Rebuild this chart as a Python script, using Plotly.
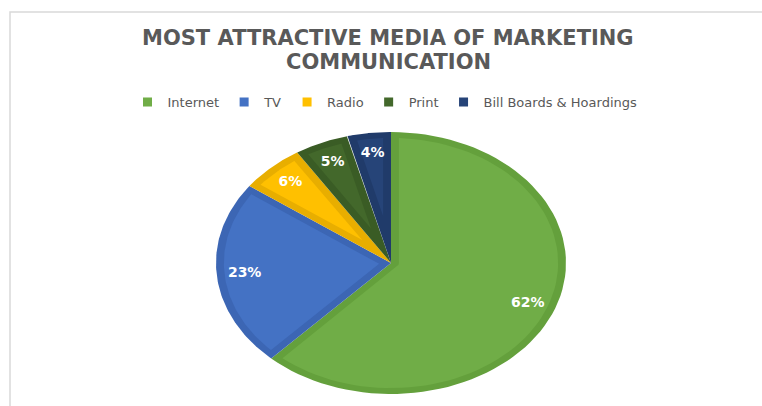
import numpy as np
import plotly.graph_objects as go

# Share of respondents by preferred marketing medium (percent)
media = ["Internet", "TV", "Radio", "Print", "Bill Boards & Hoardings"]
shares = [62, 23, 6, 5, 4]
title_lines = ["MOST ATTRACTIVE MEDIA OF MARKETING", "COMMUNICATION"]

fill_colors = ["#70AD47", "#4472C4", "#FFC000", "#43682B", "#264478"]
edge_colors = ["#64A03C", "#3C66B4", "#E8AE00", "#3A5C25", "#203B6A"]

# Pixel geometry of the ellipse inside the 762x406 canvas
W, H = 762, 406
CX, CY = 391, 263
RX, RY = 175, 131
BAND = 0.045        # width of the darker rim, in unit-circle terms
LABEL_R = 0.84      # radial position of the percentage labels


def arc(r, a0, a1, n=80):
    t = np.linspace(a0, a1, n)
    return list(r * np.cos(t)), list(r * np.sin(t))


def wedge(f0, f1, R=1.0, d=0.0):
    """Polygon of a slice running clockwise from 12 o'clock, fractions f0..f1,
    optionally inset by d from every edge."""
    ta = np.pi / 2 - 2 * np.pi * f1   # smaller math angle
    tb = np.pi / 2 - 2 * np.pi * f0   # larger math angle
    if d == 0:
        xs, ys = arc(R, ta, tb)
        return [0] + xs + [0], [0] + ys + [0]
    span = tb - ta
    alpha = span / 2
    Rp = R - d
    ua = np.array([np.cos(ta), np.sin(ta)])
    ub = np.array([np.cos(tb), np.sin(tb)])
    na = np.array([np.cos(ta + np.pi / 2), np.sin(ta + np.pi / 2)])
    nb = np.array([np.cos(tb - np.pi / 2), np.sin(tb - np.pi / 2)])
    if alpha < np.pi / 2:
        A = d / np.sin(alpha) * np.array([np.cos(ta + alpha), np.sin(ta + alpha)])

        def hit(u):
            b = A @ u
            s = -b + np.sqrt(b * b - A @ A + Rp * Rp)
            return A + s * u

        Pa, Pb = hit(ua), hit(ub)
        pa = np.arctan2(Pa[1], Pa[0])
        pb = np.arctan2(Pb[1], Pb[0])
        while pb < pa:
            pb += 2 * np.pi
        xs, ys = arc(Rp, pa, pb)
        return [A[0]] + xs + [A[0]], [A[1]] + ys + [A[1]]
    s = np.sqrt(Rp * Rp - d * d)
    Pa = d * na + s * ua
    Pb = d * nb + s * ub
    cx_, cy_ = arc(d, ta + np.pi / 2, tb - np.pi / 2, 40)
    pa = np.arctan2(Pa[1], Pa[0])
    pb = np.arctan2(Pb[1], Pb[0])
    while pb < pa:
        pb += 2 * np.pi
    ox, oy = arc(Rp, pb, pa)
    xs = [Pa[0]] + cx_ + [Pb[0]] + ox + [Pa[0]]
    ys = [Pa[1]] + cy_ + [Pb[1]] + oy + [Pa[1]]
    return xs, ys


fig = go.Figure()

total = sum(shares)
cum = np.concatenate([[0], np.cumsum(shares)]) / total

label_x, label_y = [], []
for i, name in enumerate(media):
    f0, f1 = cum[i], cum[i + 1]
    ox, oy = wedge(f0, f1)
    fig.add_trace(go.Scatter(x=ox, y=oy, mode="lines", fill="toself",
                             fillcolor=edge_colors[i], line=dict(width=0),
                             showlegend=False, hoverinfo="skip"))
    ix, iy = wedge(f0, f1, d=BAND)
    fig.add_trace(go.Scatter(x=ix, y=iy, mode="lines", fill="toself",
                             fillcolor=fill_colors[i], line=dict(width=0),
                             showlegend=False, hoverinfo="skip"))
    mid = 2 * np.pi * (f0 + f1) / 2
    label_x.append(LABEL_R * np.sin(mid))
    label_y.append(LABEL_R * np.cos(mid))

fig.add_trace(go.Scatter(
    x=label_x, y=label_y, mode="text",
    text=[f"{v}%" for v in shares],
    textfont=dict(family="DejaVu Sans", size=14, color="white", weight="bold"),
    showlegend=False, hoverinfo="skip"))

# Legend entries
for name, col in zip(media, fill_colors):
    fig.add_trace(go.Scatter(x=[None], y=[None], mode="markers", name=name,
                             marker=dict(symbol="square", size=9, color=col)))

# Two-line heading
title_font = dict(family="DejaVu Sans", size=21, color="#595959", weight="bold")
annotations = [
    dict(text=line, xref="paper", yref="paper", x=388 / W, xanchor="center",
         y=1 - ypx / H, yanchor="middle", showarrow=False, font=title_font,
         borderpad=0)
    for line, ypx in zip(title_lines, [38, 62])
]

fig.update_layout(
    width=W, height=H,
    margin=dict(l=0, r=0, t=0, b=0),
    paper_bgcolor="white", plot_bgcolor="white",
    annotations=annotations,
    legend=dict(orientation="h", x=385 / W, xanchor="center",
                y=1 - 102 / H, yanchor="middle",
                font=dict(family="DejaVu Sans", size=13, color="#595959"),
                itemwidth=30, tracegroupgap=0),
    xaxis=dict(range=[-CX / RX, (W - CX) / RX], visible=False, fixedrange=True),
    yaxis=dict(range=[(CY - H) / RY, CY / RY], visible=False, fixedrange=True),
    shapes=[dict(type="rect", xref="paper", yref="paper",
                 x0=10 / W, x1=1.02, y0=-0.02, y1=1 - 12 / H,
                 line=dict(color="#D9D9D9", width=1.5), layer="below")],
    hovermode=False,
)

fig.write_html("out.html")
